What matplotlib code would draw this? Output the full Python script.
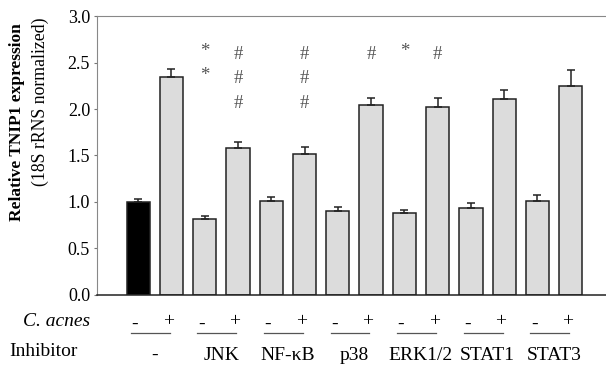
import matplotlib
matplotlib.use('Agg')
import matplotlib.pyplot as plt
import numpy as np

# valeurs
means = [1.00, 2.34, 0.82, 1.58, 1.01, 1.52, 0.90, 2.04, 0.88, 2.02, 0.93, 2.11, 1.01, 2.25]
errors = [0.035, 0.09, 0.03, 0.06, 0.04, 0.07, 0.05, 0.08, 0.03, 0.10, 0.06, 0.09, 0.07, 0.17]
acnes = ['-', '+'] * 7
inhibitors = ['-', 'JNK', 'NF-\u03baB', 'p38', 'ERK1/2', 'STAT1', 'STAT3']
# marques de significativité : (indice de barre, symbole, niveaux)
marks = [(2, '*', [2.62, 2.36]),
         (3, '#', [2.59, 2.33, 2.06]),
         (5, '#', [2.59, 2.33, 2.06]),
         (7, '#', [2.59]),
         (8, '*', [2.62]),
         (9, '#', [2.59])]

plt.rcParams['font.family'] = ['Liberation Serif', 'DejaVu Serif']

fig = plt.figure(figsize=(6.06, 3.65), dpi=100)
ax = fig.add_axes([0.160, 0.192, 0.840, 0.764])

x = np.arange(len(means))
colors = ['black'] + ['#dcdcdc'] * (len(means) - 1)
ax.bar(x, means, width=0.7, color=colors, edgecolor='#222222', linewidth=1.1, zorder=2)
ax.errorbar(x, means, yerr=[np.zeros(len(errors)), errors], fmt='none',
            ecolor='#222222', elinewidth=1.1, capsize=3, capthick=1.1, zorder=3)

for i, sym, levels in marks:
    for lv in levels:
        ax.text(x[i], lv, sym, ha='center', va='center', fontsize=13.5, color='#555555')

ax.set_xlim(-1.24, 14.06)
ax.set_ylim(0, 3.0)
ax.set_yticks(np.arange(0, 3.01, 0.5))
ax.set_yticklabels([f'{v:.1f}' for v in np.arange(0, 3.01, 0.5)], fontsize=13)
ax.set_xticks([])
ax.tick_params(axis='y', length=2, width=0.8, color='#777777', pad=3)
ax.spines['right'].set_visible(False)
ax.spines['top'].set_color('#888888')
ax.spines['left'].set_color('#888888')
ax.spines['bottom'].set_color('#222222')
ax.spines['bottom'].set_linewidth(1.1)

fig.text(0.028, 0.666, 'Relative TNIP1 expression', rotation=90, ha='center', va='center',
         fontsize=12.5, fontweight='bold')
fig.text(0.066, 0.722, '(18S rRNS normalized)', rotation=90, ha='center', va='center',
         fontsize=12.8)

# lignes sous l'axe
trans = ax.get_xaxis_transform()
fig.text(0.148, 1 - 322 / 365, 'C. acnes', style='italic', ha='right', va='center', fontsize=14)
fig.text(0.016, 1 - 351 / 365, 'Inhibitor', ha='left', va='center', fontsize=14)
for xi, s in zip(x, acnes):
    dy = -0.105 if s == '-' else -0.095
    ax.text(xi - 0.1, dy, s, transform=trans, ha='center', va='center', fontsize=14,
            clip_on=False)
for k, name in enumerate(inhibitors):
    a, b = x[2 * k], x[2 * k + 1]
    ax.plot([a - 0.22, b - 0.05], [-0.137, -0.137], transform=trans, color='#555555',
            linewidth=0.9, clip_on=False)
    ax.text((a + b) / 2, -0.216, name, transform=trans, ha='center', va='center',
            fontsize=14, clip_on=False)

fig.savefig('out.png', dpi=100)
